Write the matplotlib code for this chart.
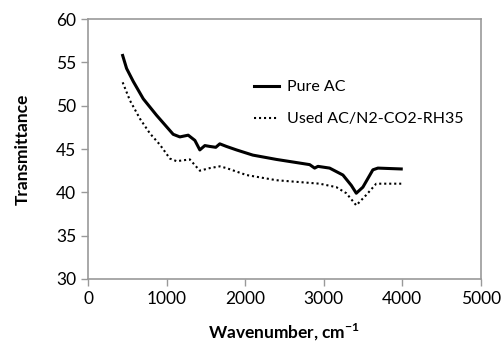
import matplotlib
matplotlib.use('Agg')
import matplotlib.pyplot as plt

# Pure AC (solid)
pure_x = [441, 491, 576, 703, 872, 978, 1084, 1169, 1275, 1360, 1423, 1487, 1550,
          1626, 1677, 1762, 1889, 2097, 2398, 2821, 2884, 2926, 3075, 3244, 3351,
          3414, 3498, 3625, 3689, 3986]
pure_y = [55.8, 54.3, 52.8, 50.8, 48.9, 47.8, 46.7, 46.4, 46.6, 46.0, 44.9, 45.4, 45.3,
          45.2, 45.6, 45.3, 44.9, 44.3, 43.8, 43.2, 42.8, 43.0, 42.8, 42.0, 40.8,
          39.9, 40.6, 42.6, 42.8, 42.7]

# Used AC/N2-CO2-RH35 (dotted)
used_x = [441, 534, 661, 788, 915, 1042, 1127, 1296, 1423, 1550, 1677, 1762, 2016,
          2398, 2948, 3160, 3287, 3414, 3541, 3668, 3986]
used_y = [52.7, 50.6, 48.5, 46.8, 45.5, 43.9, 43.6, 43.8, 42.5, 42.8, 43.0, 42.8, 42.0,
          41.4, 41.0, 40.6, 39.9, 38.5, 39.7, 41.0, 41.0]

x_ticks = [0, 1000, 2000, 3000, 4000, 5000]
y_ticks = [30, 35, 40, 45, 50, 55, 60]

plt.rcParams['font.family'] = ['Lato', 'DejaVu Sans']
plt.rcParams['mathtext.fontset'] = 'custom'
plt.rcParams['mathtext.bf'] = 'Lato:bold'
plt.rcParams['mathtext.rm'] = 'Lato'

fig = plt.figure(figsize=(5.02, 3.47), dpi=100)
ax = fig.add_axes([0.1753, 0.196, 0.7827, 0.749])

ax.plot(pure_x, pure_y, color='black', linewidth=2.2, label='Pure AC')
ax.plot(used_x, used_y, color='black', linewidth=1.5, linestyle=(0, (1, 1.4)),
        label='Used AC/N2-CO2-RH35')

ax.set_xlim(0, 5000)
ax.set_ylim(30, 60)
ax.set_xticks(x_ticks)
ax.set_yticks(y_ticks)
ax.tick_params(labelsize=12.5, color='#999999', length=5, width=1, direction='out')
for s in ax.spines.values():
    s.set_color('#999999')
    s.set_linewidth(1.2)

ax.set_xlabel('Wavenumber, cm$^{\\mathbf{-1}}$', fontsize=12.5, fontweight='bold', labelpad=11)
ax.set_ylabel('Transmittance', fontsize=12.5, fontweight='bold', labelpad=18)

ax.legend(loc='upper left', bbox_to_anchor=(0.385, 0.82), frameon=False, fontsize=11.5,
          handlelength=1.6, labelspacing=1.1, handletextpad=0.5)

fig.savefig('out.png', dpi=100)
